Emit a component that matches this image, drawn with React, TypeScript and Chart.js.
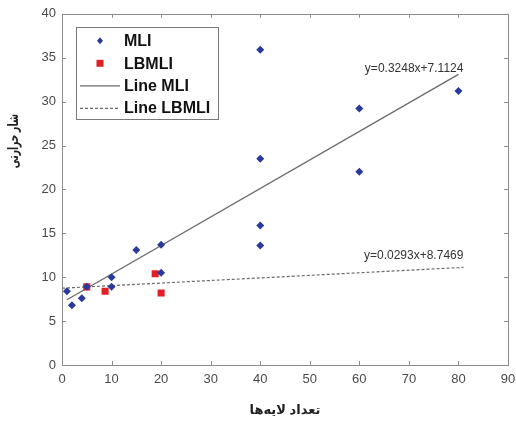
import React, { useEffect, useRef } from "react";
import { Chart, registerables } from "chart.js";

Chart.register(...registerables);

const mliX = [1, 2, 4, 5, 10, 10, 15, 20, 20, 40, 40, 40, 40, 60, 60, 80];
const mliY = [8.4, 6.8, 7.6, 8.9, 10.0, 8.9, 13.1, 13.7, 10.5, 35.9, 23.5, 15.9, 13.6, 29.2, 22.0, 31.2];
const lbX = [5, 8.7, 18.8, 20];
const lbY = [8.9, 8.4, 10.4, 8.2];
const mliLineX = [1, 80];
const mliLineY = [0.3248 * 1 + 7.1124, 0.3248 * 80 + 7.1124];
const lbLineX = [0, 81];
const lbLineY = [8.7469, 0.0293 * 81 + 8.7469];
const eqLabels = ["y=0.3248x+7.1124", "y=0.0293x+8.7469"];
const eqPos = [
  [81, 33.8],
  [81, 12.5],
];
const seriesNames = ["MLI", "LBMLI", "Line MLI", "Line LBMLI"];
const xTitle = "تعداد لایه‌ها";
const yTitle = "شار حرارتی";
const yTitleAt = 25.5;

const FONT = "'Liberation Sans', Arial, 'DejaVu Sans', sans-serif";
const BLUE = "#2a3a9c";
const RED = "#e21f26";
const LINE = "#6a6a6a";
const FRAME = "#8c8c8c";
const TEXT = "#4a4a4a";

const pts = (xs: number[], ys: number[]) => xs.map((x, i) => ({ x, y: ys[i] }));

const decorPlugin = {
  id: "decor",
  beforeDatasetsDraw(chart: any) {
    const { ctx, chartArea: a, scales } = chart;
    ctx.save();
    ctx.strokeStyle = FRAME;
    ctx.lineWidth = 1;
    ctx.strokeRect(Math.round(a.left) + 0.5, Math.round(a.top) + 0.5, Math.round(a.right - a.left), Math.round(a.bottom - a.top));
    const tl = 4;
    ctx.beginPath();
    scales.x.ticks.forEach((t: any) => {
      const px = Math.round(scales.x.getPixelForValue(t.value)) + 0.5;
      ctx.moveTo(px, a.bottom);
      ctx.lineTo(px, a.bottom - tl);
      ctx.moveTo(px, a.top);
      ctx.lineTo(px, a.top + tl);
    });
    scales.y.ticks.forEach((t: any) => {
      const py = Math.round(scales.y.getPixelForValue(t.value)) + 0.5;
      ctx.moveTo(a.left, py);
      ctx.lineTo(a.left + tl, py);
      ctx.moveTo(a.right, py);
      ctx.lineTo(a.right - tl, py);
    });
    ctx.stroke();
    ctx.restore();
  },
  afterDraw(chart: any) {
    const { ctx, chartArea: a, scales } = chart;
    ctx.save();
    // equation labels
    ctx.fillStyle = "#333";
    ctx.font = `12px ${FONT}`;
    ctx.textAlign = "right";
    ctx.textBaseline = "middle";
    eqLabels.forEach((s, i) => {
      ctx.fillText(s, scales.x.getPixelForValue(eqPos[i][0]), scales.y.getPixelForValue(eqPos[i][1]));
    });
    // axis titles
    ctx.fillStyle = "#222";
    ctx.font = `bold 13px ${FONT}`;
    ctx.textAlign = "center";
    ctx.fillText(xTitle, (a.left + a.right) / 2, 410);
    ctx.save();
    ctx.translate(14, scales.y.getPixelForValue(yTitleAt));
    ctx.rotate(-Math.PI / 2);
    ctx.font = `bold 14px ${FONT}`;
    ctx.scale(0.66, 1);
    ctx.fillText(yTitle, 0, 0);
    ctx.restore();
    // legend
    const bx = a.left + 14, by = a.top + 13, bw = 142, bh = 92;
    ctx.fillStyle = "#fff";
    ctx.fillRect(bx, by, bw, bh);
    ctx.strokeStyle = "#7a7a7a";
    ctx.lineWidth = 1;
    ctx.strokeRect(Math.round(bx) + 0.5, Math.round(by) + 0.5, bw, bh);
    const rows = [by + 14, by + 36.5, by + 58.5, by + 81];
    const ds = chart.data.datasets;
    ds.forEach((d: any, i: number) => {
      const ry = rows[i];
      if (i < 2) {
        ctx.fillStyle = d.backgroundColor;
        ctx.beginPath();
        const mx = bx + 24;
        if (d.pointStyle === "rectRot") {
          ctx.moveTo(mx, ry - 3.5);
          ctx.lineTo(mx + 3, ry);
          ctx.lineTo(mx, ry + 3.5);
          ctx.lineTo(mx - 3, ry);
          ctx.closePath();
        } else {
          ctx.rect(mx - 3.5, ry - 3.5, 7, 7);
        }
        ctx.fill();
      } else {
        ctx.strokeStyle = d.borderColor;
        ctx.lineWidth = d.borderWidth;
        ctx.setLineDash(d.borderDash || []);
        ctx.beginPath();
        ctx.moveTo(bx + 4, ry + 0.5);
        ctx.lineTo(bx + 44, ry + 0.5);
        ctx.stroke();
        ctx.setLineDash([]);
      }
      ctx.fillStyle = "#111";
      ctx.font = `bold 16px ${FONT}`;
      ctx.textAlign = "left";
      ctx.textBaseline = "middle";
      ctx.fillText(d.label, bx + 48, ry + 1);
    });
    ctx.restore();
  },
};

export default function App() {
  const ref = useRef<HTMLCanvasElement>(null);
  useEffect(() => {
    if (!ref.current) return;
    const chart = new Chart(ref.current, {
      type: "scatter",
      data: {
        datasets: [
          {
            label: seriesNames[0],
            data: pts(mliX, mliY),
            pointStyle: "rectRot",
            pointRadius: 4,
            backgroundColor: BLUE,
            borderColor: BLUE,
            borderWidth: 0,
          },
          {
            label: seriesNames[1],
            data: pts(lbX, lbY),
            pointStyle: "rect",
            pointRadius: 5,
            backgroundColor: RED,
            borderColor: RED,
            borderWidth: 0,
          },
          {
            label: seriesNames[2],
            type: "line",
            data: pts(mliLineX, mliLineY),
            showLine: true,
            pointRadius: 0,
            borderColor: LINE,
            borderWidth: 1.3,
            backgroundColor: LINE,
          },
          {
            label: seriesNames[3],
            type: "line",
            data: pts(lbLineX, lbLineY),
            showLine: true,
            pointRadius: 0,
            borderColor: LINE,
            borderWidth: 1.2,
            borderDash: [3, 2],
            backgroundColor: LINE,
          },
        ],
      } as any,
      options: {
        animation: false,
        responsive: false,
        layout: { padding: { top: 12, right: 0, left: 0, bottom: 0 } },
        plugins: { legend: { display: false }, tooltip: { enabled: false } },
        scales: {
          x: {
            type: "linear",
            min: 0,
            max: 90,
            ticks: { stepSize: 10, color: TEXT, font: { family: FONT, size: 13 }, padding: 7 },
            grid: { display: false, drawTicks: false },
            border: { display: false },
            afterFit: (s: any) => {
              s.height = 56;
              s.paddingRight = 8;
              s.paddingLeft = 0;
            },
          },
          y: {
            type: "linear",
            min: 0,
            max: 40,
            ticks: { stepSize: 5, color: TEXT, font: { family: FONT, size: 13 }, padding: 6 },
            grid: { display: false, drawTicks: false },
            border: { display: false },
            afterFit: (s: any) => {
              s.width = 62;
            },
          },
        },
      },
      plugins: [decorPlugin],
    });
    return () => chart.destroy();
  }, []);
  return (
    <div style={{ position: "absolute", left: 0, top: 0, width: 516, height: 421, background: "#fff" }}>
      <canvas ref={ref} width={516} height={421} />
    </div>
  );
}
